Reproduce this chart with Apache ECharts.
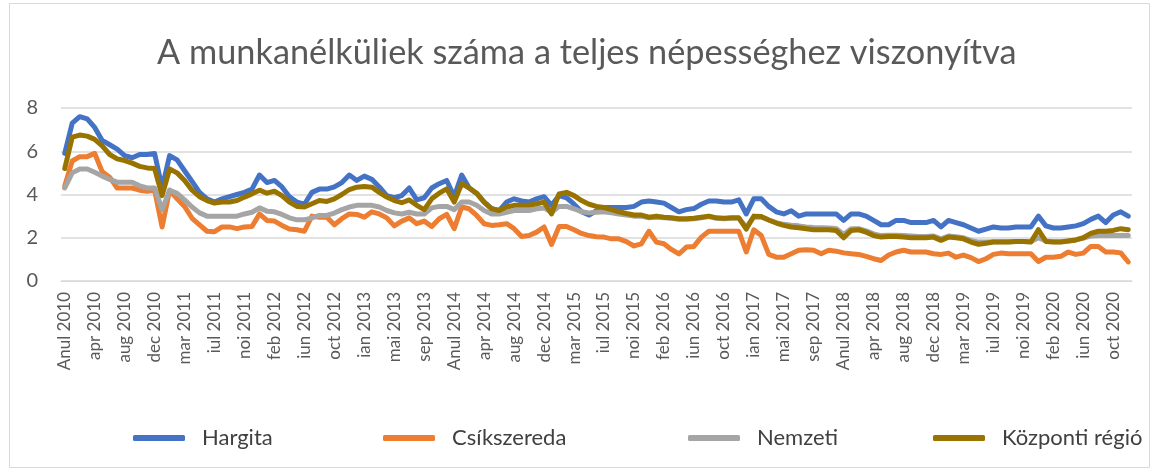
<!DOCTYPE html>
<html>
<head>
<meta charset="utf-8">
<script src="https://cdn.jsdelivr.net/npm/echarts@6/dist/echarts.min.js"></script>
<style>html,body{margin:0;padding:0;background:#fff}#c{width:1153px;height:468px}</style>
</head>
<body>
<div id="c"></div>
<script>
var years = [2010,2011,2012,2013,2014,2015,2016,2017,2018,2019,2020];
var months = ['ian','feb','mar','apr','mai','iun','iul','aug','sep','oct','noi','dec'];
var yTicks = [0,2,4,6,8];
var seriesNames = ['Hargita','Csíkszereda','Nemzeti','Központi régió'];

var hargita = [
5.9,7.3,7.6,7.5,7.1,6.5,6.3,6.1,5.8,5.7,5.85,5.85,5.9,
4.3,5.8,5.6,5.1,4.6,4.1,3.8,3.65,3.8,3.9,4.0,4.1,4.25,
4.9,4.55,4.65,4.35,3.9,3.65,3.55,4.1,4.25,4.25,4.35,4.55,4.9,
4.65,4.85,4.7,4.35,3.95,3.85,3.95,4.3,3.75,3.85,4.3,4.5,4.65,
3.9,4.9,4.3,4.05,3.65,3.35,3.25,3.65,3.8,3.7,3.65,3.8,3.9,
3.5,3.95,3.85,3.55,3.2,3.05,3.25,3.4,3.4,3.4,3.4,3.45,3.65,
3.7,3.65,3.6,3.4,3.2,3.3,3.35,3.55,3.7,3.7,3.65,3.65,3.75,
3.1,3.8,3.8,3.45,3.2,3.1,3.25,3.0,3.1,3.1,3.1,3.1,3.1,
2.8,3.1,3.1,3.0,2.8,2.6,2.6,2.8,2.8,2.7,2.7,2.7,2.8,
2.5,2.8,2.7,2.6,2.45,2.3,2.4,2.5,2.45,2.45,2.5,2.5,2.5,
3.0,2.55,2.45,2.45,2.5,2.55,2.65,2.85,3.0,2.7,3.05,3.2,3.0];

var csikszereda = [
4.4,5.55,5.75,5.75,5.9,5.05,4.8,4.3,4.3,4.3,4.2,4.15,4.2,
2.5,4.2,3.8,3.45,2.9,2.6,2.3,2.28,2.5,2.5,2.42,2.5,2.52,
3.1,2.8,2.77,2.57,2.4,2.37,2.3,3.0,2.95,2.95,2.6,2.88,3.1,
3.08,2.95,3.2,3.1,2.92,2.55,2.77,2.92,2.65,2.77,2.52,2.88,3.08,
2.42,3.42,3.34,3.03,2.65,2.57,2.6,2.65,2.42,2.06,2.1,2.26,2.5,
1.69,2.52,2.52,2.37,2.2,2.1,2.05,2.03,1.95,1.95,1.82,1.62,1.72,
2.3,1.8,1.72,1.46,1.25,1.57,1.6,2.03,2.3,2.3,2.3,2.3,2.3,
1.34,2.37,2.1,1.23,1.1,1.1,1.26,1.42,1.45,1.42,1.26,1.42,1.38,
1.3,1.26,1.23,1.14,1.03,0.95,1.2,1.34,1.42,1.34,1.34,1.34,1.26,
1.23,1.29,1.1,1.2,1.08,0.9,1.03,1.23,1.29,1.26,1.26,1.26,1.26,
0.9,1.1,1.1,1.14,1.34,1.23,1.29,1.6,1.6,1.34,1.34,1.3,0.88];

var nemzeti = [
4.3,5.0,5.18,5.18,5.03,4.85,4.7,4.57,4.57,4.57,4.4,4.3,4.3,
3.3,4.2,4.05,3.75,3.42,3.15,3.0,3.0,3.0,3.0,3.0,3.1,3.18,
3.38,3.23,3.2,3.08,2.92,2.83,2.83,2.92,3.03,3.03,3.14,3.3,3.42,
3.5,3.5,3.5,3.42,3.26,3.15,3.1,3.18,3.1,3.1,3.38,3.45,3.45,
3.3,3.65,3.65,3.5,3.26,3.1,3.1,3.18,3.26,3.26,3.26,3.34,3.38,
3.18,3.45,3.45,3.34,3.2,3.15,3.18,3.2,3.15,3.1,3.05,3.0,3.0,
2.92,2.95,2.92,2.9,2.85,2.85,2.88,2.92,2.98,2.9,2.88,2.9,2.9,
2.5,2.95,2.95,2.82,2.7,2.62,2.58,2.55,2.5,2.47,2.46,2.45,2.43,
2.15,2.42,2.42,2.32,2.18,2.1,2.12,2.12,2.1,2.08,2.06,2.06,2.08,
1.95,2.08,2.05,2.0,1.88,1.8,1.8,1.82,1.82,1.82,1.83,1.83,1.82,
2.0,1.85,1.82,1.82,1.85,1.9,1.98,2.08,2.1,2.1,2.1,2.1,2.1];

var kozponti = [
5.2,6.65,6.75,6.7,6.55,6.25,5.85,5.65,5.57,5.45,5.3,5.23,5.2,
3.95,5.18,5.0,4.65,4.2,3.9,3.72,3.6,3.65,3.65,3.72,3.88,4.03,
4.2,4.06,4.15,3.95,3.65,3.45,3.42,3.57,3.72,3.68,3.8,4.0,4.23,
4.34,4.37,4.34,4.1,3.88,3.72,3.62,3.75,3.5,3.3,3.8,4.06,4.26,
3.65,4.5,4.3,4.06,3.65,3.34,3.26,3.42,3.5,3.5,3.5,3.57,3.65,
3.1,4.03,4.1,3.95,3.72,3.55,3.45,3.4,3.3,3.2,3.12,3.05,3.05,
2.95,3.0,2.95,2.92,2.88,2.88,2.9,2.95,3.0,2.92,2.9,2.92,2.92,
2.4,3.0,2.98,2.82,2.68,2.57,2.5,2.46,2.42,2.37,2.37,2.37,2.34,
2.0,2.34,2.37,2.26,2.1,2.03,2.06,2.06,2.03,2.0,2.0,2.0,2.03,
1.88,2.03,2.0,1.95,1.8,1.7,1.75,1.8,1.8,1.8,1.83,1.83,1.8,
2.37,1.83,1.8,1.8,1.85,1.9,2.0,2.2,2.3,2.3,2.34,2.42,2.37];

var categories = [];
years.forEach(function(y){
  categories.push('Anul ' + y);
  months.forEach(function(m){ categories.push(m + ' ' + y); });
});

var colors = ['#4472C4','#ED7D31','#A5A5A5','#997300'];
var dataSets = [hargita, csikszereda, nemzeti, kozponti];
var legendLefts = [128, 378, 683, 928];
var FONT = 'Lato';

var chart = echarts.init(document.getElementById('c'), null, {renderer:'canvas'});
chart.setOption({
  animation: false,
  backgroundColor: '#ffffff',
  color: colors,
  title: {
    text: 'A munkanélküliek száma a teljes népességhez viszonyítva',
    left: 152, top: 31,
    textStyle: {fontFamily: FONT, fontSize: 34.3, fontWeight: 'normal', color: '#595959'}
  },
  legend: seriesNames.map(function(n, i){
    return {
      left: legendLefts[i], top: 422,
      itemWidth: 52, itemHeight: 6,
      icon: 'roundRect',
      textStyle: {fontFamily: FONT, fontSize: 22, color: '#404040', padding: [0,0,0,12]},
      data: [n]
    };
  }),
  grid: {left: 61, right: 21, top: 108, bottom: 187},
  xAxis: {
    type: 'category', data: categories, boundaryGap: true,
    axisLine: {show: true, lineStyle: {color: '#d9d9d9', width: 1}},
    axisTick: {show: false},
    axisLabel: {interval: 3, rotate: 90, margin: 11, fontFamily: FONT, fontSize: 17, color: '#595959'}
  },
  yAxis: {
    type: 'value', min: yTicks[0], max: yTicks[yTicks.length-1], interval: 2,
    axisLine: {show: false}, axisTick: {show: false},
    splitLine: {lineStyle: {color: '#d9d9d9', width: 1.5}},
    axisLabel: {margin: 23, fontFamily: FONT, fontSize: 20, color: '#595959'}
  },
  series: seriesNames.map(function(n, i){
    return {
      name: n, type: 'line', data: dataSets[i], showSymbol: false, symbol: 'none',
      lineStyle: {width: 5, color: colors[i], cap: 'round', join: 'round'},
      itemStyle: {color: colors[i]}, z: 2 + i
    };
  }),
  graphic: [{
    type: 'rect', left: 7, top: 1, shape: {x: 0, y: 0, width: 1140, height: 464},
    style: {fill: 'none', stroke: '#d9d9d9', lineWidth: 1}, silent: true, z: -1
  }]
});
</script>
</body>
</html>
